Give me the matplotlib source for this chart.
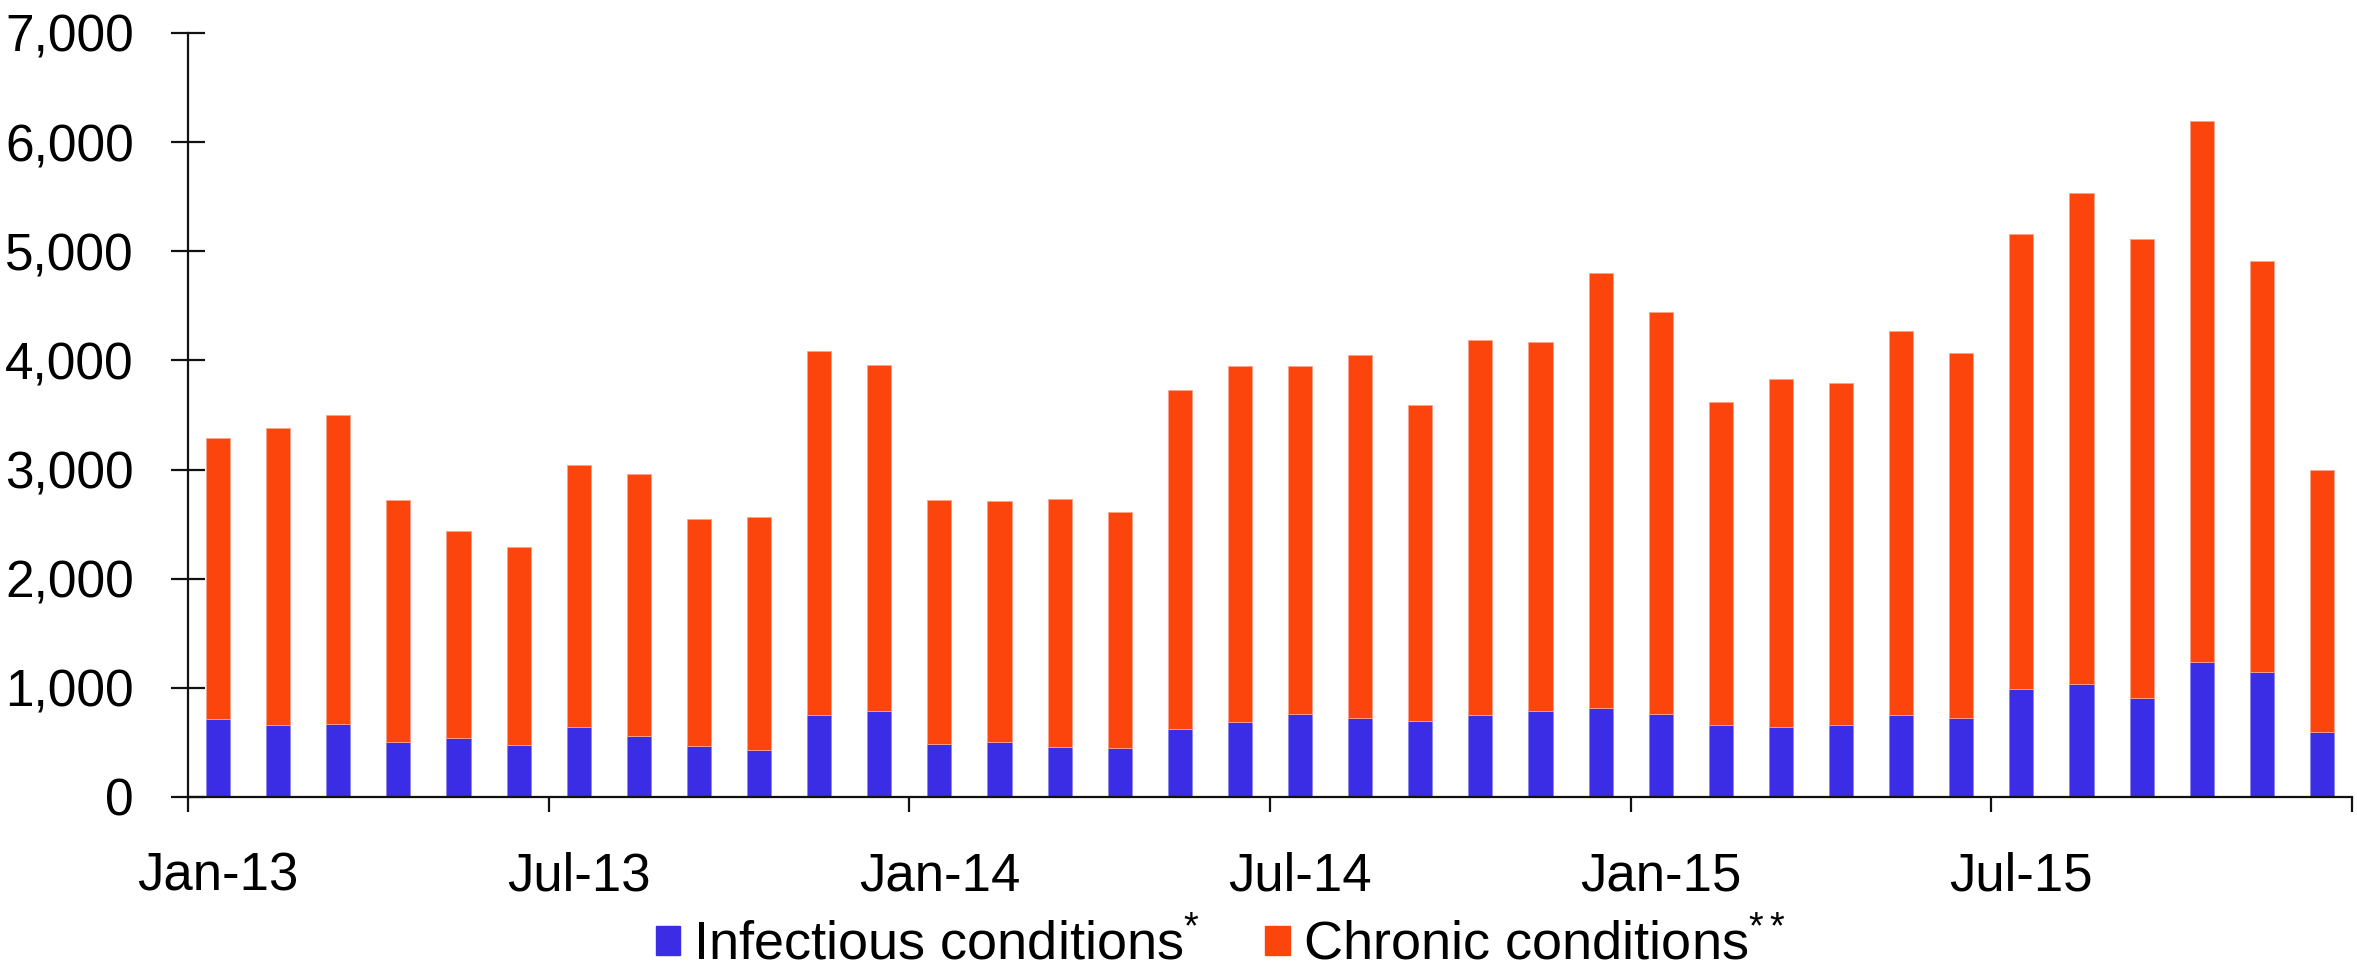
import numpy as np
import matplotlib
matplotlib.use("Agg")
import matplotlib.pyplot as plt
from matplotlib.patches import Rectangle
from matplotlib.ticker import FuncFormatter, FixedLocator

plt.rcParams['font.family'] = ['Liberation Sans', 'DejaVu Sans']
plt.rcParams['mathtext.fontset'] = 'custom'
plt.rcParams['mathtext.rm'] = 'Liberation Sans'
plt.rcParams['mathtext.it'] = 'Liberation Sans'

# monthly counts, Jan-13 .. Dec-15
months = ["Jan-13", "Feb-13", "Mar-13", "Apr-13", "May-13", "Jun-13",
          "Jul-13", "Aug-13", "Sep-13", "Oct-13", "Nov-13", "Dec-13",
          "Jan-14", "Feb-14", "Mar-14", "Apr-14", "May-14", "Jun-14",
          "Jul-14", "Aug-14", "Sep-14", "Oct-14", "Nov-14", "Dec-14",
          "Jan-15", "Feb-15", "Mar-15", "Apr-15", "May-15", "Jun-15",
          "Jul-15", "Aug-15", "Sep-15", "Oct-15", "Nov-15", "Dec-15"]
infectious = [716, 664, 670, 502, 541, 477, 642, 563, 471, 431, 755, 792,
              486, 502, 456, 450, 627, 685, 761, 722, 700, 749, 786, 817,
              758, 661, 645, 657, 752, 725, 985, 1032, 910, 1239, 1148, 598]
chronic = [2574, 2716, 2830, 2218, 1899, 1813, 2398, 2397, 2079, 2139, 3335, 3168,
           2234, 2208, 2274, 2160, 3103, 3265, 3189, 3328, 2890, 3441, 3384, 3983,
           3682, 2959, 3185, 3133, 3518, 3345, 4175, 4498, 4200, 4951, 3762, 2402]
label_every = 6

blue = "#3A2DE5"
orange = "#FC450C"

fig = plt.figure(figsize=(23.57, 9.66), dpi=100)
ax = fig.add_axes([188 / 2357, 169 / 966, (2352 - 188) / 2357, 764 / 966])

x = np.arange(len(months))
ax.bar(x, infectious, width=0.4, color=blue, edgecolor="#8C86F2", linewidth=0.6)
ax.bar(x, chronic, width=0.4, bottom=infectious, color=orange,
       edgecolor="#FBA48C", linewidth=0.6)

ax.set_xlim(-0.5, len(months) - 0.5)
ax.set_ylim(0, 7000)

for s in ["top", "right"]:
    ax.spines[s].set_visible(False)
for s in ["left", "bottom"]:
    ax.spines[s].set_linewidth(1.6)
    ax.spines[s].set_color("#111111")

ax.set_yticks(np.arange(0, 7001, 1000))
ax.yaxis.set_major_formatter(FuncFormatter(lambda v, p: f"{int(v):,}"))
ax.tick_params(axis="y", direction="inout", length=24, width=1.6,
               labelsize=37, pad=27, colors="#111111", labelcolor="black")

ax.set_xticks(x[::label_every])
ax.set_xticklabels(months[::label_every])
ax.xaxis.set_minor_locator(FixedLocator(np.arange(-0.5, len(months), label_every)))
ax.tick_params(axis="x", which="major", length=0, labelsize=38, pad=39)
ax.tick_params(axis="x", which="minor", direction="out", length=11, width=1.6,
               colors="#111111")

handles = [Rectangle((0, 0), 1, 1, color=blue), Rectangle((0, 0), 1, 1, color=orange)]
labels = ["Infectious conditions$^{*}$", "Chronic conditions$^{**}$"]
fig.legend(handles, labels, loc="center", bbox_to_anchor=(0.518, 0.022), ncol=2,
           frameon=False, fontsize=39, handlelength=0.45, handleheight=0.45,
           handletextpad=0.25, columnspacing=1.2)

fig.savefig("out.png", dpi=100)
